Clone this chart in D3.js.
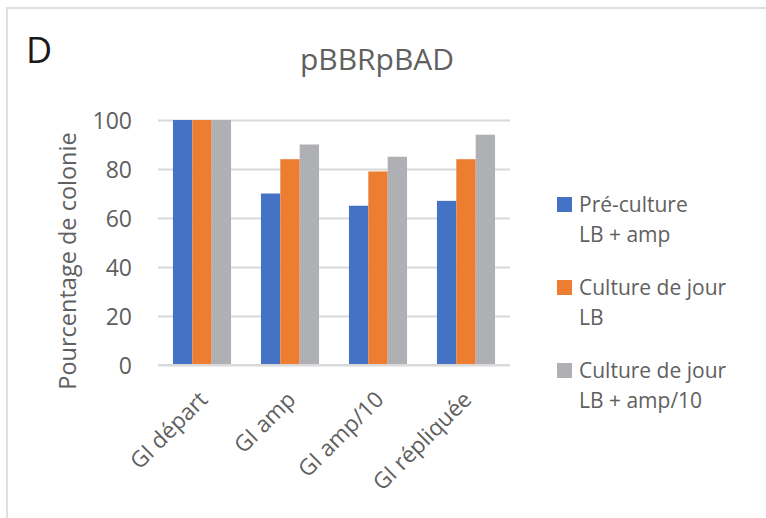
<!DOCTYPE html>
<html>
<head>
<meta charset="utf-8">
<script src="https://cdn.jsdelivr.net/npm/d3@7"></script>
<style>
  html, body { margin: 0; padding: 0; background: #fff; }
  svg { display: block; }
  text { font-family: "Open Sans", "Noto Sans", sans-serif; font-weight: 400; }
</style>
</head>
<body>
<svg id="chart" width="766" height="518"></svg>
<script>
const categories = ["GI départ", "GI amp", "GI amp/10", "GI répliquée"];
const seriesNames = [["Pré-culture", "LB + amp"], ["Culture de jour", "LB"], ["Culture de jour", "LB + amp/10"]];
const preCulture = [100, 70, 65, 67];
const cultureJourLB = [100, 84, 79, 84];
const cultureJourAmp10 = [100, 90, 85, 94];
const yTicks = [0, 20, 40, 60, 80, 100];
const colors = ["#4472C4", "#ED7D31", "#AFB0B4"];

const seriesValues = [preCulture, cultureJourLB, cultureJourAmp10];
const svg = d3.select("#chart");
const textColor = "#606060";

// frame
svg.append("line").attr("x1", 6).attr("x2", 766).attr("y1", 8).attr("y2", 8)
  .attr("stroke", "#e0e0e0").attr("stroke-width", 2);
svg.append("line").attr("x1", 7).attr("x2", 7).attr("y1", 7).attr("y2", 518)
  .attr("stroke", "#e0e0e0").attr("stroke-width", 2);

// panel letter
svg.append("text").attr("x", 26).attr("y", 63).attr("font-size", 36)
  .attr("fill", "#1a1a1a").text("D");

// title
svg.append("text").attr("x", 377).attr("y", 70).attr("text-anchor", "middle")
  .attr("font-size", 30).attr("fill", textColor).text("pBBRpBAD");

const plot = { left: 158, right: 510, top: 120, bottom: 365 };
const x = d3.scaleBand().domain(categories).range([plot.left, plot.right]).paddingInner(0.34).paddingOuter(0.17);
const xs = d3.scaleBand().domain(d3.range(seriesValues.length)).range([0, x.bandwidth()]);
const y = d3.scaleLinear().domain([0, 100]).range([plot.bottom, plot.top]);

// gridlines + tick labels
const yAxis = d3.axisLeft(y).tickValues(yTicks).tickSize(-(plot.right - plot.left)).tickPadding(26);
const gy = svg.append("g").attr("transform", `translate(${plot.left},0)`).call(yAxis);
gy.select(".domain").remove();
gy.selectAll(".tick line").attr("stroke", "#d9d9d9").attr("stroke-width", 2);
gy.selectAll(".tick text").attr("fill", textColor).attr("font-size", 23)
  .attr("font-family", "'Open Sans', sans-serif").attr("dy", "0.36em");

// bars
seriesValues.forEach((vals, si) => {
  svg.append("g").selectAll("rect").data(vals).join("rect")
    .attr("x", (d, i) => x(categories[i]) + xs(si))
    .attr("width", xs.bandwidth())
    .attr("y", d => y(d))
    .attr("height", d => y(0) - y(d))
    .attr("fill", colors[si]);
});

// x axis baseline
svg.append("line").attr("x1", plot.left).attr("x2", plot.right).attr("y1", y(0)).attr("y2", y(0))
  .attr("stroke", "#d9d9d9").attr("stroke-width", 2);

// x labels
const xAxis = d3.axisBottom(x).tickSize(0).tickPadding(0);
const gx = svg.append("g").attr("transform", `translate(0,${plot.bottom})`).call(xAxis);
gx.select(".domain").remove();
gx.selectAll(".tick text")
  .attr("fill", textColor).attr("font-size", 22.5).attr("font-family", "'Open Sans', sans-serif")
  .attr("text-anchor", "end").attr("dy", null).attr("y", null)
  .attr("transform", "translate(7,36) rotate(-45)");

// y axis title
svg.append("text").attr("transform", "translate(76,261) rotate(-90)").attr("text-anchor", "middle")
  .attr("font-size", 23.5).attr("fill", textColor).text("Pourcentage de colonie");

// legend
const legend = svg.append("g");
seriesNames.forEach((lines, i) => {
  const base = 212 + i * 83;
  legend.append("rect").attr("x", 557).attr("y", base - 15).attr("width", 15).attr("height", 15).attr("fill", colors[i]);
  lines.forEach((ln, j) => {
    legend.append("text").attr("x", 579).attr("y", base + j * 30).attr("font-size", 21)
      .attr("fill", textColor).text(ln);
  });
});
</script>
</body>
</html>
